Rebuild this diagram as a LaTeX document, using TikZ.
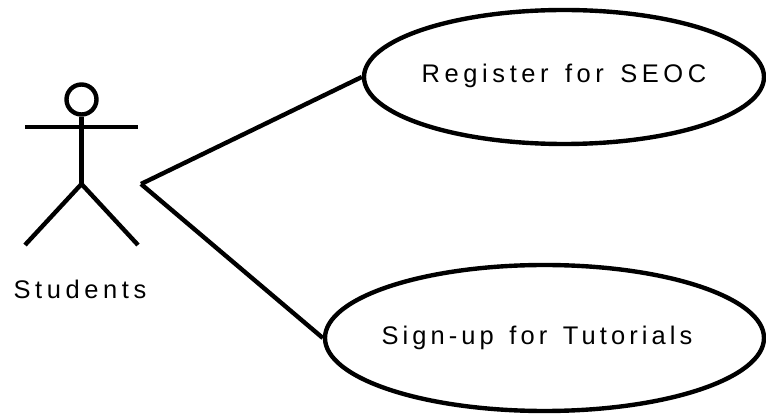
\documentclass[tikz,border=0pt]{standalone}
\usepackage{fontspec}
\setmainfont[LetterSpace=18, WordSpace=1.4]{Liberation Sans}
\usetikzlibrary{shapes}

\begin{document}
\begin{tikzpicture}
    \tikzstyle{every node} = [inner sep=0, font=\fontsize{14.5}{17}\selectfont]
    \tikzstyle{usecase} = [shape=ellipse, draw, line width=2.5pt]
    \tikzstyle{stick} = [line width=2.5pt]
    \useasboundingbox (0, 0) rectangle (15.32, 8.28);
    \node (reg) [usecase, minimum width=8cm, minimum height=2.68cm] at (11.28, 6.74) {};
    \node (tut) [usecase, minimum width=8.78cm, minimum height=2.92cm] at (10.89, 1.52) {};
    \node (regtext) at (11.28, 6.76) {Register for SEOC};
    \node (tuttext) at (10.74, 1.52) {\addfontfeature{LetterSpace=16}Sign-up for Tutorials};
    \node (head) [shape=circle, draw, line width=2.5pt, minimum size=.6cm] at (1.63, 6.29) {};
    \coordinate (hip) at (1.63, 4.6);
    \coordinate (larm) at (.5, 5.74);
    \coordinate (rarm) at (2.76, 5.74);
    \coordinate (lleg) at (.5, 3.38);
    \coordinate (rleg) at (2.76, 3.38);
    \coordinate (actor) at (2.82, 4.6);
    \node (students) at (1.6, 2.5) {Students};
      \draw [stick] (head) -- (hip);
      \draw [stick] (larm) -- (rarm);
      \draw [stick] (lleg) -- (hip) -- (rleg);
      \draw [stick] (actor) -- (reg.west);
      \draw [stick] (actor) -- (tut.west);
  \end{tikzpicture}
\end{document}
